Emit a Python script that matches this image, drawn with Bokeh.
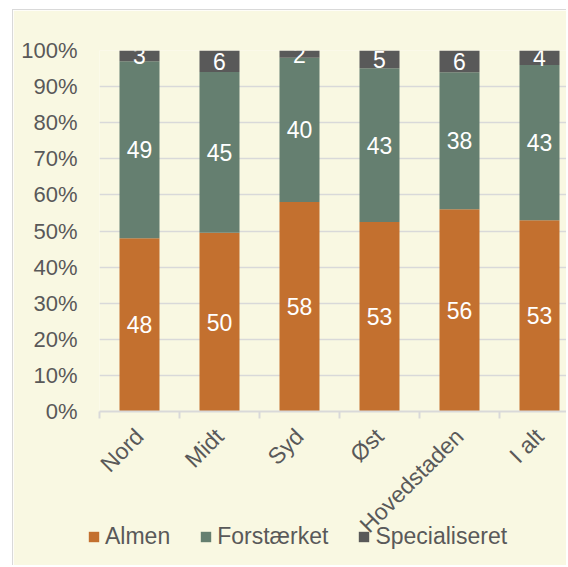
import math
from bokeh.plotting import figure
from bokeh.models import ColumnDataSource, Range1d, FixedTicker, Legend, LegendItem
from bokeh.core.properties import value
from bokeh.embed import file_html
from bokeh.resources import INLINE

categories = ["Nord", "Midt", "Syd", "Øst", "Hovedstaden", "I alt"]
almen = [48, 50, 58, 53, 56, 53]
forstaerket = [49, 45, 40, 43, 38, 43]
specialiseret = [3, 6, 2, 5, 6, 4]
y_ticks = [0, 10, 20, 30, 40, 50, 60, 70, 80, 90, 100]
y_tick_labels = [f"{t}%" for t in y_ticks]

series_names = ["Almen", "Forstærket", "Specialiseret"]
colors = ["#C3702F", "#657F70", "#595959"]
FONT = "Liberation Sans"
TXT = "#595959"
GRID = "#D9D9D9"
BG = "#F9F8E2"

n = len(categories)
xs = [i + 0.5 for i in range(n)]
totals = [a + f + s for a, f, s in zip(almen, forstaerket, specialiseret)]
pa = [a / t * 100 for a, t in zip(almen, totals)]
pf = [f / t * 100 for f, t in zip(forstaerket, totals)]
ps = [s / t * 100 for s, t in zip(specialiseret, totals)]

src = ColumnDataSource(dict(x=xs, Almen=pa, Forst=pf, Spec=ps))

W = 554
H = 556
p = figure(width=W, height=H, output_backend="svg", toolbar_location=None,
           x_range=Range1d(0, (W - 86) / 80), y_range=Range1d(0, 100),
           min_border_left=86, min_border_right=0, min_border_top=40, min_border_bottom=155,
           background_fill_color=BG, border_fill_color=BG, outline_line_color=None)
p.styles = {"margin-left": "12px", "margin-top": "9px",
            "border-left": "1px solid #D9D9D9", "border-top": "1px solid #D9D9D9"}

renderers = p.vbar_stack(["Almen", "Forst", "Spec"], x="x", width=0.5, source=src,
                         color=colors, line_color=None)

# data labels
lab_x, lab_y, lab_t = [], [], []
for i in range(n):
    b = 0.0
    for v, raw in ((pa[i], almen[i]), (pf[i], forstaerket[i]), (ps[i], specialiseret[i])):
        lab_x.append(xs[i]); lab_y.append(b + v / 2); lab_t.append(str(raw))
        b += v
p.text(x=lab_x, y=lab_y, text=lab_t, text_color="white", text_align="center",
       text_baseline="middle", text_font=value(FONT), text_font_size="23px")

# axes
p.xaxis.ticker = FixedTicker(ticks=xs, minor_ticks=list(range(n + 1)))
p.xaxis.major_label_overrides = {x: c for x, c in zip(xs, categories)}
p.xaxis.major_label_orientation = math.pi / 4
p.xaxis.major_tick_line_color = None
p.xaxis.minor_tick_line_color = GRID
p.xaxis.minor_tick_line_width = 2
p.xaxis.minor_tick_out = 7
p.xaxis.minor_tick_in = 0
p.xaxis.axis_line_color = GRID
p.xaxis.axis_line_width = 2
p.xaxis.major_label_standoff = 14
p.xaxis.major_label_text_font = FONT
p.xaxis.major_label_text_font_size = "23px"
p.xaxis.major_label_text_color = TXT

p.yaxis.ticker = FixedTicker(ticks=y_ticks)
p.yaxis.major_label_overrides = {t: l for t, l in zip(y_ticks, y_tick_labels)}
p.yaxis.axis_line_color = None
p.yaxis.major_tick_line_color = None
p.yaxis.minor_tick_line_color = None
p.yaxis.major_tick_out = 0
p.yaxis.major_label_standoff = 22
p.yaxis.major_label_text_font = FONT
p.yaxis.major_label_text_font_size = "22px"
p.yaxis.major_label_text_color = TXT

p.xgrid.grid_line_color = None
p.ygrid.grid_line_color = GRID
p.ygrid.grid_line_width = 1.5

# legend strip overlaid on the bottom of the chart (separate root, transparent)
LH = 34
p2 = figure(width=W, height=LH, output_backend="svg", toolbar_location=None,
            x_axis_location=None, y_axis_location=None,
            min_border_left=0, min_border_right=0, min_border_top=0, min_border_bottom=0,
            background_fill_alpha=0, border_fill_alpha=0, outline_line_color=None)
p2.styles = {"margin-left": "13px", "margin-top": "-46px"}
p2.xgrid.grid_line_color = None
p2.ygrid.grid_line_color = None
leg_rs = p2.vbar_stack(["Almen", "Forst", "Spec"], x="x", width=0.5, source=src,
                       color=colors, line_color=None, visible=False)
legend = Legend(items=[LegendItem(label=nm, renderers=[r]) for nm, r in zip(series_names, leg_rs)],
                orientation="horizontal", location=(74, 3),
                label_text_font=FONT, label_text_font_size="23px", label_text_color=TXT,
                glyph_width=13, glyph_height=13, label_standoff=5, spacing=29,
                padding=0, margin=0, border_line_color=None, background_fill_alpha=0,
                inactive_fill_alpha=0, click_policy="none")
p2.add_layout(legend, "center")

open("out.html", "w").write(file_html([p, p2], INLINE))
